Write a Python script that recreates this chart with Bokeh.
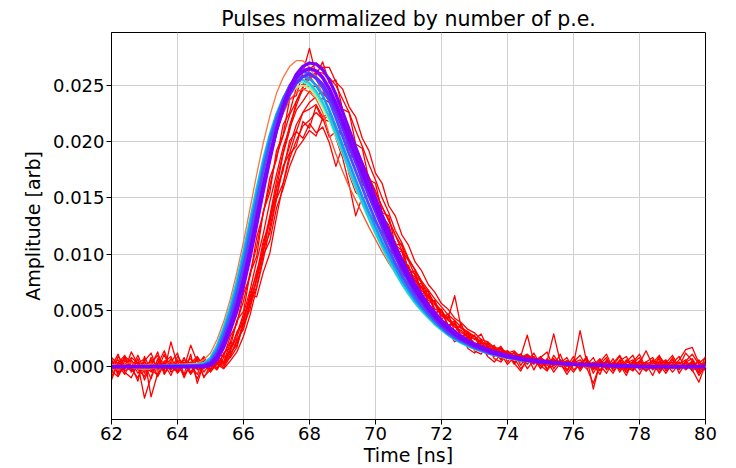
from bokeh.plotting import figure
from bokeh.models import Range1d, FixedTicker, PrintfTickFormatter
from bokeh.embed import file_html
from bokeh.resources import INLINE

# ---------------- data ----------------
title_text = "Pulses normalized by number of p.e."
x_label = "Time [ns]"
y_label = "Amplitude [arb]"
x_ticks = [62, 64, 66, 68, 70, 72, 74, 76, 78, 80]
y_ticks = [0.000, 0.005, 0.010, 0.015, 0.020, 0.025]

# sampling times of the noisy (low p.e.) pulses, 0.2 ns
t_fine = [62.0, 62.2, 62.4, 62.6, 62.8, 63.0, 63.2, 63.4, 63.6, 63.8,
          64.0, 64.2, 64.4, 64.6, 64.8, 65.0, 65.2, 65.4, 65.6, 65.8,
          66.0, 66.2, 66.4, 66.6, 66.8, 67.0, 67.2, 67.4, 67.6, 67.8,
          68.0, 68.2, 68.4, 68.6, 68.8, 69.0, 69.2, 69.4, 69.6, 69.8,
          70.0, 70.2, 70.4, 70.6, 70.8, 71.0, 71.2, 71.4, 71.6, 71.8,
          72.0, 72.2, 72.4, 72.6, 72.8, 73.0, 73.2, 73.4, 73.6, 73.8,
          74.0, 74.2, 74.4, 74.6, 74.8, 75.0, 75.2, 75.4, 75.6, 75.8,
          76.0, 76.2, 76.4, 76.6, 76.8, 77.0, 77.2, 77.4, 77.6, 77.8,
          78.0, 78.2, 78.4, 78.6, 78.8, 79.0, 79.2, 79.4, 79.6, 79.8, 80.0]

red_1 = [-0.0012, 0.0004, -0.0003, 0.0013, 0.0002, -0.0028, -0.0009, 0.0006, -0.0004, 0.0022,
         0.0001, -0.0007, 0.0011, -0.0015, 0.0003, 0.0006, -0.0002, 0.0012, 0.0017, 0.0041,
         0.0049, 0.0083, 0.0098, 0.0138, 0.0155, 0.0192, 0.0206, 0.0238, 0.0241, 0.0262,
         0.0283, 0.0259, 0.0271, 0.0252, 0.0255, 0.0229, 0.0226, 0.0198, 0.0194, 0.0166,
         0.0163, 0.0137, 0.0134, 0.0108, 0.0109, 0.0083, 0.0085, 0.0064, 0.0068, 0.0047,
         0.0051, 0.0036, 0.0041, 0.0025, 0.0031, 0.0017, 0.0024, 0.0012, 0.0019, 0.0006,
         0.0014, 0.0003, 0.0009, 0.0028, 0.0004, 0.0007, -0.0003, 0.0010, 0.0002, -0.0004,
         0.0006, 0.0001, 0.0009, -0.0020, 0.0003, -0.0002, 0.0007, -0.0005, 0.0004, 0.0010,
         -0.0003, 0.0002, -0.0008, 0.0005, -0.0001, 0.0008, -0.0006, 0.0003, -0.0002, 0.0006, -0.0004]

red_2 = [0.0003, -0.0005, 0.0008, -0.0002, -0.0010, 0.0005, 0.0012, -0.0004, 0.0002, -0.0008,
         0.0006, -0.0001, 0.0019, 0.0004, -0.0009, -0.0003, 0.0007, 0.0002, 0.0015, 0.0026,
         0.0044, 0.0061, 0.0085, 0.0103, 0.0131, 0.0152, 0.0178, 0.0190, 0.0209, 0.0203,
         0.0216, 0.0208, 0.0213, 0.0199, 0.0178, 0.0196, 0.0171, 0.0155, 0.0149, 0.0153,
         0.0146, 0.0124, 0.0113, 0.0097, 0.0090, 0.0074, 0.0068, 0.0052, 0.0049, 0.0040,
         0.0033, 0.0031, 0.0022, 0.0027, 0.0016, 0.0012, 0.0018, 0.0009, 0.0004, 0.0011,
         0.0002, 0.0008, -0.0002, 0.0005, 0.0012, 0.0001, -0.0004, 0.0006, 0.0003, -0.0007,
         0.0002, 0.0032, 0.0004, -0.0003, 0.0006, 0.0001, -0.0006, 0.0005, 0.0009, -0.0002,
         0.0003, 0.0014, 0.0001, -0.0005, 0.0004, -0.0001, 0.0006, 0.0015, 0.0017, 0.0003, 0.0008]

red_3 = [-0.0006, 0.0009, 0.0001, -0.0004, 0.0007, -0.0012, 0.0003, 0.0010, -0.0007, 0.0002,
         -0.0003, 0.0008, -0.0005, 0.0001, 0.0006, 0.0000, 0.0005, 0.0004, 0.0016, 0.0029,
         0.0047, 0.0068, 0.0094, 0.0118, 0.0147, 0.0171, 0.0195, 0.0212, 0.0228, 0.0236,
         0.0245, 0.0241, 0.0244, 0.0236, 0.0229, 0.0220, 0.0207, 0.0196, 0.0181, 0.0169,
         0.0155, 0.0142, 0.0130, 0.0117, 0.0103, 0.0094, 0.0081, 0.0075, 0.0062, 0.0057,
         0.0046, 0.0043, 0.0063, 0.0034, 0.0030, 0.0024, 0.0029, 0.0017, 0.0013, 0.0018,
         0.0009, 0.0012, 0.0004, 0.0010, 0.0006, -0.0001, 0.0005, 0.0029, 0.0004, 0.0002,
         -0.0005, 0.0003, 0.0001, 0.0008, -0.0004, 0.0005, 0.0002, -0.0003, 0.0006, 0.0000,
         -0.0007, 0.0004, 0.0008, -0.0002, 0.0003, -0.0005, 0.0002, 0.0006, -0.0003, -0.0014, 0.0002]

red_4 = [0.0005, -0.0002, 0.0009, 0.0004, -0.0006, 0.0002, -0.0011, 0.0007, 0.0003, -0.0003,
         0.0009, 0.0001, -0.0006, 0.0008, 0.0002, -0.0005, 0.0003, 0.0001, 0.0010, 0.0022,
         0.0036, 0.0057, 0.0078, 0.0108, 0.0134, 0.0165, 0.0190, 0.0215, 0.0232, 0.0248,
         0.0256, 0.0262, 0.0261, 0.0257, 0.0250, 0.0238, 0.0226, 0.0210, 0.0196, 0.0180,
         0.0166, 0.0150, 0.0137, 0.0121, 0.0110, 0.0096, 0.0086, 0.0074, 0.0066, 0.0056,
         0.0050, 0.0041, 0.0037, 0.0030, 0.0027, 0.0021, 0.0019, 0.0016, 0.0011, 0.0013,
         0.0008, 0.0010, 0.0005, 0.0007, 0.0003, 0.0006, 0.0001, 0.0004, 0.0000, 0.0005,
         0.0002, -0.0002, 0.0004, 0.0001, 0.0007, -0.0003, 0.0003, 0.0010, 0.0000, -0.0004,
         0.0005, 0.0001, -0.0002, 0.0009, 0.0002, 0.0004, -0.0003, 0.0005, 0.0011, 0.0002, -0.0003]

red_5 = [0.0008, 0.0002, -0.0007, 0.0005, -0.0002, -0.0009, 0.0004, -0.0003, 0.0011, -0.0005,
         -0.0001, 0.0006, 0.0002, -0.0011, 0.0004, 0.0002, -0.0003, 0.0008, 0.0013, 0.0031,
         0.0039, 0.0065, 0.0082, 0.0112, 0.0128, 0.0159, 0.0174, 0.0201, 0.0209, 0.0226,
         0.0229, 0.0233, 0.0222, 0.0225, 0.0203, 0.0186, 0.0162, 0.0134, 0.0151, 0.0137,
         0.0128, 0.0120, 0.0105, 0.0098, 0.0083, 0.0077, 0.0062, 0.0059, 0.0045, 0.0043,
         0.0032, 0.0036, 0.0024, 0.0021, 0.0026, 0.0014, 0.0011, 0.0019, 0.0007, 0.0004,
         0.0012, 0.0003, -0.0004, 0.0007, 0.0002, 0.0009, -0.0002, 0.0001, 0.0006, -0.0003,
         0.0004, 0.0010, -0.0001, -0.0015, 0.0002, 0.0008, -0.0004, 0.0002, -0.0008, 0.0005,
         0.0001, -0.0003, 0.0006, 0.0002, -0.0006, 0.0003, 0.0009, -0.0002, 0.0004, -0.0008, 0.0001]

red_6 = [-0.0004, -0.0009, 0.0002, 0.0006, -0.0003, 0.0001, -0.0005, 0.0003, -0.0002, 0.0007,
         -0.0006, 0.0002, 0.0004, -0.0002, 0.0005, 0.0001, 0.0006, 0.0003, 0.0012, 0.0019,
         0.0037, 0.0051, 0.0079, 0.0101, 0.0133, 0.0158, 0.0189, 0.0210, 0.0236, 0.0249,
         0.0264, 0.0270, 0.0266, 0.0266, 0.0253, 0.0247, 0.0231, 0.0222, 0.0203, 0.0192,
         0.0172, 0.0163, 0.0143, 0.0134, 0.0117, 0.0108, 0.0093, 0.0085, 0.0073, 0.0066,
         0.0056, 0.0051, 0.0043, 0.0039, 0.0033, 0.0030, 0.0024, 0.0022, 0.0017, 0.0016,
         0.0012, 0.0014, 0.0008, 0.0011, 0.0006, 0.0008, 0.0004, 0.0007, 0.0002, 0.0005,
         0.0003, 0.0006, 0.0000, 0.0004, 0.0001, 0.0005, -0.0002, 0.0003, 0.0001, 0.0004,
         -0.0001, 0.0002, 0.0005, -0.0003, 0.0002, 0.0000, 0.0004, -0.0002, 0.0003, 0.0000, 0.0002]

red_7 = [0.0002, 0.0006, -0.0004, -0.0001, 0.0004, -0.0006, 0.0008, -0.0002, 0.0004, 0.0000,
         -0.0005, 0.0003, 0.0007, -0.0003, 0.0001, 0.0004, 0.0002, 0.0011, 0.0022, 0.0040,
         0.0058, 0.0083, 0.0107, 0.0137, 0.0161, 0.0187, 0.0205, 0.0224, 0.0236, 0.0246,
         0.0250, 0.0249, 0.0243, 0.0238, 0.0225, 0.0214, 0.0198, 0.0186, 0.0170, 0.0159,
         0.0143, 0.0133, 0.0119, 0.0109, 0.0096, 0.0088, 0.0076, 0.0070, 0.0059, 0.0055,
         0.0045, 0.0042, 0.0035, 0.0032, 0.0026, 0.0025, 0.0019, 0.0018, 0.0013, 0.0014,
         0.0009, 0.0010, 0.0006, 0.0008, 0.0003, 0.0006, 0.0002, 0.0004, 0.0000, 0.0004,
         0.0001, 0.0003, -0.0002, 0.0002, 0.0004, -0.0001, 0.0003, 0.0000, 0.0002, -0.0003,
         0.0002, 0.0004, -0.0001, 0.0001, 0.0005, -0.0002, 0.0001, 0.0003, -0.0004, 0.0002, 0.0000]

red_8 = [-0.0002, 0.0003, 0.0010, -0.0005, 0.0001, 0.0004, -0.0002, -0.0008, 0.0005, 0.0003,
         -0.0004, 0.0002, -0.0001, 0.0006, -0.0005, 0.0003, -0.0001, 0.0004, 0.0008, 0.0017,
         0.0039, 0.0064, 0.0062, 0.0084, 0.0101, 0.0133, 0.0162, 0.0185, 0.0201, 0.0214,
         0.0219, 0.0226, 0.0220, 0.0218, 0.0212, 0.0205, 0.0193, 0.0183, 0.0166, 0.0157,
         0.0142, 0.0131, 0.0119, 0.0107, 0.0097, 0.0088, 0.0077, 0.0071, 0.0061, 0.0057,
         0.0048, 0.0044, 0.0037, 0.0034, 0.0029, 0.0027, 0.0021, 0.0020, 0.0016, 0.0013,
         0.0014, 0.0009, 0.0011, 0.0005, 0.0008, 0.0004, 0.0006, 0.0001, 0.0005, 0.0002,
         0.0004, -0.0001, 0.0003, 0.0002, -0.0003, 0.0004, 0.0001, -0.0002, 0.0003, 0.0006,
         0.0000, -0.0004, 0.0002, 0.0004, -0.0002, 0.0001, 0.0003, -0.0003, 0.0002, 0.0004, -0.0001]

red_9 = [0.0007, -0.0008, 0.0005, 0.0001, -0.0013, 0.0009, -0.0004, 0.0002, 0.0014, -0.0003,
         0.0005, -0.0010, 0.0003, 0.0009, -0.0002, 0.0005, 0.0011, 0.0009, 0.0027, 0.0038,
         0.0065, 0.0080, 0.0115, 0.0136, 0.0168, 0.0184, 0.0215, 0.0226, 0.0248, 0.0251,
         0.0258, 0.0250, 0.0249, 0.0236, 0.0229, 0.0211, 0.0203, 0.0183, 0.0176, 0.0155,
         0.0149, 0.0129, 0.0124, 0.0103, 0.0102, 0.0082, 0.0080, 0.0063, 0.0064, 0.0048,
         0.0050, 0.0035, 0.0039, 0.0026, 0.0030, 0.0018, 0.0024, 0.0013, 0.0017, 0.0009,
         0.0013, 0.0004, 0.0011, 0.0002, 0.0009, -0.0002, 0.0007, 0.0001, 0.0011, -0.0004,
         0.0005, 0.0000, 0.0008, -0.0006, 0.0004, 0.0011, -0.0002, 0.0006, -0.0005, 0.0003,
         0.0008, -0.0004, 0.0003, 0.0010, -0.0003, 0.0006, 0.0000, 0.0012, 0.0005, -0.0005, 0.0009]

red_10 = [-0.0009, 0.0003, 0.0006, -0.0002, 0.0010, -0.0004, 0.0001, 0.0013, -0.0006, 0.0004,
          0.0012, -0.0008, 0.0002, 0.0007, -0.0010, 0.0001, 0.0009, 0.0004, 0.0021, 0.0018,
          0.0042, 0.0059, 0.0077, 0.0104, 0.0119, 0.0149, 0.0163, 0.0189, 0.0196, 0.0218,
          0.0212, 0.0232, 0.0219, 0.0224, 0.0210, 0.0207, 0.0189, 0.0184, 0.0162, 0.0158,
          0.0139, 0.0133, 0.0115, 0.0111, 0.0092, 0.0090, 0.0073, 0.0074, 0.0056, 0.0059,
          0.0042, 0.0047, 0.0031, 0.0038, 0.0022, 0.0028, 0.0015, 0.0022, 0.0009, 0.0017,
          0.0004, 0.0013, 0.0001, 0.0010, -0.0003, 0.0008, 0.0013, -0.0002, 0.0006, 0.0000,
          0.0009, -0.0004, 0.0005, 0.0002, -0.0007, 0.0006, 0.0001, 0.0009, -0.0003, 0.0004,
          0.0011, -0.0002, 0.0005, -0.0006, 0.0003, 0.0010, -0.0001, 0.0004, 0.0007, -0.0003, 0.0005]

red_11 = [0.0004, -0.0006, -0.0001, 0.0008, 0.0003, -0.0003, 0.0006, -0.0009, 0.0002, 0.0005,
          -0.0002, 0.0004, -0.0007, 0.0001, 0.0009, -0.0004, 0.0002, -0.0002, 0.0005, 0.0013,
          0.0027, 0.0046, 0.0070, 0.0095, 0.0124, 0.0150, 0.0177, 0.0196, 0.0215, 0.0226,
          0.0235, 0.0240, 0.0238, 0.0235, 0.0228, 0.0219, 0.0208, 0.0195, 0.0182, 0.0168,
          0.0156, 0.0142, 0.0130, 0.0117, 0.0107, 0.0095, 0.0086, 0.0076, 0.0068, 0.0060,
          0.0053, 0.0046, 0.0041, 0.0035, 0.0031, 0.0027, 0.0022, 0.0020, 0.0016, 0.0015,
          0.0011, 0.0012, 0.0008, 0.0010, 0.0005, 0.0008, 0.0003, 0.0006, 0.0002, 0.0005,
          0.0001, 0.0004, 0.0002, -0.0001, 0.0004, 0.0002, 0.0000, 0.0005, -0.0002, 0.0003,
          0.0001, 0.0004, -0.0003, 0.0002, 0.0006, -0.0001, 0.0002, 0.0000, 0.0005, -0.0002, 0.0003]

red_12 = [0.0000, 0.0011, -0.0005, -0.0010, 0.0003, 0.0007, -0.0027, -0.0006, 0.0004, 0.0009,
          -0.0005, 0.0003, 0.0001, -0.0007, 0.0008, -0.0002, 0.0004, -0.0001, 0.0009, 0.0024,
          0.0033, 0.0055, 0.0071, 0.0099, 0.0112, 0.0141, 0.0158, 0.0178, 0.0193, 0.0201,
          0.0210, 0.0205, 0.0221, 0.0204, 0.0209, 0.0196, 0.0201, 0.0180, 0.0175, 0.0157,
          0.0151, 0.0133, 0.0126, 0.0108, 0.0103, 0.0087, 0.0082, 0.0067, 0.0064, 0.0051,
          0.0049, 0.0037, 0.0038, 0.0026, 0.0029, 0.0018, 0.0021, 0.0011, 0.0016, 0.0006,
          0.0012, 0.0002, 0.0009, -0.0002, 0.0006, 0.0001, 0.0005, -0.0005, 0.0003, 0.0008,
          -0.0003, 0.0002, 0.0007, -0.0002, 0.0001, -0.0006, 0.0004, 0.0002, -0.0005, 0.0001,
          0.0005, -0.0003, 0.0000, 0.0007, -0.0004, 0.0002, -0.0002, 0.0004, 0.0001, -0.0006, 0.0003]

orange_red = [0.0001, -0.0003, 0.0002, 0.0004, -0.0002, 0.0000, 0.0003, -0.0004, 0.0001, 0.0005,
              -0.0002, 0.0002, -0.0001, 0.0003, 0.0001, 0.0006, 0.0015, 0.0028, 0.0045, 0.0066,
              0.0088, 0.0114, 0.0140, 0.0166, 0.0189, 0.0209, 0.0225, 0.0237, 0.0244, 0.0247,
              0.0244, 0.0238, 0.0226, 0.0206, 0.0189, 0.0174, 0.0160, 0.0148, 0.0136, 0.0124,
              0.0113, 0.0102, 0.0092, 0.0083, 0.0074, 0.0066, 0.0059, 0.0052, 0.0046, 0.0041,
              0.0036, 0.0031, 0.0027, 0.0024, 0.0021, 0.0018, 0.0016, 0.0013, 0.0012, 0.0010,
              0.0008, 0.0009, 0.0005, 0.0007, 0.0004, 0.0005, 0.0002, 0.0004, 0.0001, 0.0003,
              0.0001, 0.0002, -0.0001, 0.0002, 0.0000, 0.0002, 0.0001, -0.0001, 0.0002, 0.0000,
              0.0001, -0.0002, 0.0002, 0.0000, 0.0001, -0.0001, 0.0002, 0.0000, -0.0001, 0.0001, 0.0000]

# sampling times of the smooth (high p.e.) average pulses
t_smooth = [62.0, 63.0, 64.0, 64.6, 64.8,
            65.0, 65.2, 65.4, 65.6, 65.8, 66.0, 66.2, 66.4, 66.6, 66.8,
            67.0, 67.2, 67.4, 67.6, 67.8, 68.0, 68.2, 68.4, 68.6, 68.8,
            69.0, 69.2, 69.4, 69.6, 69.8, 70.0, 70.2, 70.4, 70.6, 70.8,
            71.0, 71.2, 71.4, 71.6, 71.8, 72.0, 72.2, 72.4, 72.6, 72.8,
            73.0,
            73.5, 74.0, 74.5, 75.0, 75.5, 76.0, 77.0, 78.0, 79.0, 80.0]

orange = [0.0002, -0.0003, 0.0002, 0.0003, 0.0006,
          0.0012, 0.0024, 0.0040, 0.0060, 0.0084, 0.0111, 0.0141, 0.0171, 0.0199, 0.0223,
          0.0243, 0.0257, 0.0267, 0.0272, 0.0272, 0.0266, 0.0256, 0.0242, 0.0226, 0.0209,
          0.0192, 0.0176, 0.0161, 0.0146, 0.0132, 0.0119, 0.0106, 0.0094, 0.0083, 0.0073,
          0.0064, 0.0056, 0.0049, 0.0043, 0.0037, 0.0032, 0.0028, 0.0025, 0.0021, 0.0019,
          0.0016,
          0.0011, 0.0008, 0.0005, 0.0004, 0.0002, 0.0001, 0.0001, -0.0001, 0.0001, 0.0000]

yellow = [0.0001, -0.0001, 0.0001, 0.0002, 0.0003,
          0.0008, 0.0019, 0.0034, 0.0052, 0.0074, 0.0099, 0.0125, 0.0152, 0.0177, 0.0199,
          0.0217, 0.0231, 0.0242, 0.0248, 0.0250, 0.0248, 0.0242, 0.0232, 0.0219, 0.0205,
          0.0190, 0.0175, 0.0160, 0.0146, 0.0133, 0.0120, 0.0108, 0.0097, 0.0086, 0.0076,
          0.0067, 0.0059, 0.0052, 0.0045, 0.0040, 0.0035, 0.0030, 0.0026, 0.0023, 0.0020,
          0.0017,
          0.0012, 0.0008, 0.0006, 0.0004, 0.0003, 0.0002, 0.0001, 0.0000, 0.0000, 0.0000]

green_1 = [0.0001, 0.0000, 0.0001, 0.0002, 0.0003,
           0.0008, 0.0018, 0.0034, 0.0053, 0.0075, 0.0100, 0.0127, 0.0154, 0.0180, 0.0202,
           0.0220, 0.0234, 0.0244, 0.0249, 0.0250, 0.0247, 0.0240, 0.0230, 0.0218, 0.0204,
           0.0189, 0.0173, 0.0158, 0.0144, 0.0130, 0.0117, 0.0105, 0.0094, 0.0083, 0.0073,
           0.0064, 0.0056, 0.0049, 0.0043, 0.0037, 0.0032, 0.0028, 0.0024, 0.0021, 0.0018,
           0.0015,
           0.0011, 0.0007, 0.0005, 0.0004, 0.0003, 0.0002, 0.0001, 0.0000, 0.0000, 0.0000]

green_2 = [0.0000, 0.0001, 0.0000, 0.0002, 0.0003,
           0.0008, 0.0018, 0.0034, 0.0053, 0.0076, 0.0101, 0.0129, 0.0157, 0.0183, 0.0205,
           0.0223, 0.0237, 0.0247, 0.0252, 0.0253, 0.0250, 0.0243, 0.0233, 0.0220, 0.0206,
           0.0190, 0.0174, 0.0159, 0.0145, 0.0131, 0.0118, 0.0106, 0.0094, 0.0083, 0.0073,
           0.0064, 0.0056, 0.0049, 0.0043, 0.0037, 0.0032, 0.0028, 0.0024, 0.0021, 0.0018,
           0.0016,
           0.0011, 0.0008, 0.0005, 0.0004, 0.0003, 0.0002, 0.0001, 0.0000, 0.0000, 0.0000]

cyan = [0.0000, 0.0000, 0.0001, 0.0002, 0.0003,
        0.0008, 0.0019, 0.0035, 0.0054, 0.0077, 0.0103, 0.0131, 0.0159, 0.0185, 0.0207,
        0.0225, 0.0239, 0.0249, 0.0254, 0.0255, 0.0252, 0.0245, 0.0235, 0.0222, 0.0207,
        0.0191, 0.0175, 0.0160, 0.0146, 0.0132, 0.0119, 0.0107, 0.0095, 0.0084, 0.0074,
        0.0065, 0.0057, 0.0050, 0.0044, 0.0038, 0.0033, 0.0028, 0.0024, 0.0021, 0.0018,
        0.0016,
        0.0011, 0.0008, 0.0005, 0.0004, 0.0003, 0.0002, 0.0001, 0.0000, 0.0000, 0.0000]

blue_2 = [0.0000, 0.0000, 0.0001, 0.0001, 0.0002,
          0.0006, 0.0016, 0.0031, 0.0049, 0.0071, 0.0097, 0.0125, 0.0153, 0.0180, 0.0204,
          0.0223, 0.0238, 0.0249, 0.0256, 0.0258, 0.0256, 0.0250, 0.0241, 0.0228, 0.0213,
          0.0197, 0.0181, 0.0166, 0.0151, 0.0137, 0.0124, 0.0111, 0.0099, 0.0088, 0.0077,
          0.0068, 0.0059, 0.0052, 0.0045, 0.0039, 0.0034, 0.0029, 0.0025, 0.0022, 0.0019,
          0.0016,
          0.0011, 0.0008, 0.0005, 0.0004, 0.0003, 0.0002, 0.0001, 0.0000, 0.0000, 0.0000]

blue_1 = [0.0000, 0.0000, 0.0000, 0.0001, 0.0001,
          0.0004, 0.0013, 0.0027, 0.0044, 0.0065, 0.0090, 0.0117, 0.0146, 0.0174, 0.0199,
          0.0220, 0.0237, 0.0250, 0.0258, 0.0262, 0.0261, 0.0256, 0.0248, 0.0236, 0.0221,
          0.0205, 0.0189, 0.0174, 0.0159, 0.0144, 0.0130, 0.0117, 0.0104, 0.0092, 0.0081,
          0.0071, 0.0062, 0.0054, 0.0047, 0.0041, 0.0035, 0.0030, 0.0026, 0.0023, 0.0020,
          0.0017,
          0.0012, 0.0008, 0.0006, 0.0004, 0.0003, 0.0002, 0.0001, 0.0000, 0.0000, 0.0000]

violet = [0.0000, 0.0000, 0.0000, 0.0000, 0.0001,
          0.0003, 0.0010, 0.0022, 0.0038, 0.0057, 0.0080, 0.0106, 0.0134, 0.0162, 0.0188,
          0.0210, 0.0228, 0.0242, 0.0252, 0.0258, 0.0260, 0.0257, 0.0251, 0.0241, 0.0228,
          0.0213, 0.0197, 0.0182, 0.0167, 0.0152, 0.0138, 0.0124, 0.0111, 0.0098, 0.0087,
          0.0076, 0.0066, 0.0058, 0.0050, 0.0043, 0.0037, 0.0032, 0.0028, 0.0024, 0.0021,
          0.0018,
          0.0012, 0.0009, 0.0006, 0.0004, 0.0003, 0.0002, 0.0001, 0.0000, 0.0000, 0.0000]

purple_2 = [0.0000, 0.0000, 0.0000, 0.0000, 0.0000,
            0.0001, 0.0006, 0.0017, 0.0032, 0.0049, 0.0071, 0.0097, 0.0126, 0.0156, 0.0184,
            0.0210, 0.0232, 0.0248, 0.0260, 0.0267, 0.0270, 0.0269, 0.0264, 0.0255, 0.0242,
            0.0227, 0.0211, 0.0195, 0.0180, 0.0165, 0.0150, 0.0135, 0.0121, 0.0107, 0.0095,
            0.0083, 0.0073, 0.0064, 0.0055, 0.0048, 0.0041, 0.0036, 0.0031, 0.0027, 0.0023,
            0.0020,
            0.0014, 0.0010, 0.0007, 0.0005, 0.0003, 0.0002, 0.0001, 0.0000, 0.0000, 0.0000]

purple_1 = [0.0000, 0.0000, 0.0000, 0.0000, 0.0000,
            0.0002, 0.0008, 0.0020, 0.0035, 0.0053, 0.0076, 0.0102, 0.0131, 0.0160, 0.0187,
            0.0211, 0.0231, 0.0246, 0.0257, 0.0263, 0.0265, 0.0263, 0.0257, 0.0247, 0.0234,
            0.0219, 0.0203, 0.0188, 0.0173, 0.0158, 0.0143, 0.0129, 0.0115, 0.0102, 0.0090,
            0.0079, 0.0069, 0.0060, 0.0052, 0.0045, 0.0039, 0.0034, 0.0029, 0.0025, 0.0022,
            0.0019,
            0.0013, 0.0009, 0.0006, 0.0004, 0.0003, 0.0002, 0.0001, 0.0000, 0.0000, 0.0000]

# ---------------- styles (drawing order: low p.e. first) ----------------
series = [
    (t_fine, red_1, "#ff0000", 1.3),
    (t_fine, red_2, "#ff0000", 1.3),
    (t_fine, red_3, "#ff0000", 1.3),
    (t_fine, red_10, "#ff0000", 1.3),
    (t_fine, red_12, "#ff0000", 1.3),
    (t_fine, red_4, "#ff0000", 1.3),
    (t_fine, red_5, "#ff0000", 1.3),
    (t_fine, red_6, "#ff0000", 1.3),
    (t_fine, red_11, "#ff0000", 1.3),
    (t_fine, red_7, "#ff0000", 1.3),
    (t_fine, red_8, "#ff0000", 1.3),
    (t_fine, red_9, "#ff0000", 1.3),
    (t_fine, orange_red, "#ff4f28", 1.3),
    (t_smooth, orange, "#ff743b", 1.3),
    (t_smooth, yellow, "#e6ce74", 1.5),
    (t_smooth, green_1, "#b3f396", 1.5),
    (t_smooth, green_2, "#4df3ce", 1.7),
    (t_smooth, cyan, "#1acee3", 2.2),
    (t_smooth, blue_2, "#1996f3", 2.6),
    (t_smooth, blue_1, "#4d4ffc", 2.8),
    (t_smooth, violet, "#6628fe", 3.2),
    (t_smooth, purple_2, "#8000ff", 3.2),
    (t_smooth, purple_1, "#8000ff", 3.6),
]

FONT = "DejaVu Sans"

p = figure(width=736, height=468, output_backend="svg", toolbar_location=None,
           x_range=Range1d(62, 80), y_range=Range1d(-0.00471, 0.02971),
           min_border_left=111, min_border_right=31, min_border_top=32, min_border_bottom=45,
           title=title_text)

for t, v, c, w in series:
    assert len(t) == len(v), (len(t), len(v))
    p.line(t, v, line_color=c, line_width=w, line_join="round")

p.title.align = "center"
p.title.text_font = FONT
p.title.text_font_size = "20.5px"
p.title.text_font_style = "normal"
p.title.text_color = "black"
p.title.standoff = 4

p.xaxis.ticker = FixedTicker(ticks=x_ticks)
p.yaxis.ticker = FixedTicker(ticks=y_ticks)
p.yaxis.formatter = PrintfTickFormatter(format="%.3f")
p.xaxis.axis_label = x_label
p.yaxis.axis_label = y_label

for ax in (p.xaxis, p.yaxis):
    ax.axis_label_text_font = FONT
    ax.axis_label_text_font_size = "19px"
    ax.axis_label_text_font_style = "normal"
    ax.axis_label_text_color = "black"
    ax.major_label_text_font = FONT
    ax.major_label_text_font_size = "18px"
    ax.major_label_text_color = "black"
    ax.major_tick_out = 5
    ax.major_tick_in = 0
    ax.minor_tick_line_color = None
    ax.major_tick_line_color = "black"
    ax.axis_line_color = "black"
    ax.major_label_standoff = 2
    ax.axis_label_standoff = 1

p.yaxis.axis_label_standoff = 6

p.xgrid.ticker = FixedTicker(ticks=x_ticks)
p.ygrid.ticker = FixedTicker(ticks=y_ticks)
p.grid.grid_line_color = "#d0d0d0"
p.grid.grid_line_width = 1
p.outline_line_color = "black"
p.outline_line_width = 1
p.background_fill_color = "white"
p.border_fill_color = "white"

open("out.html", "w").write(file_html(p, INLINE))
